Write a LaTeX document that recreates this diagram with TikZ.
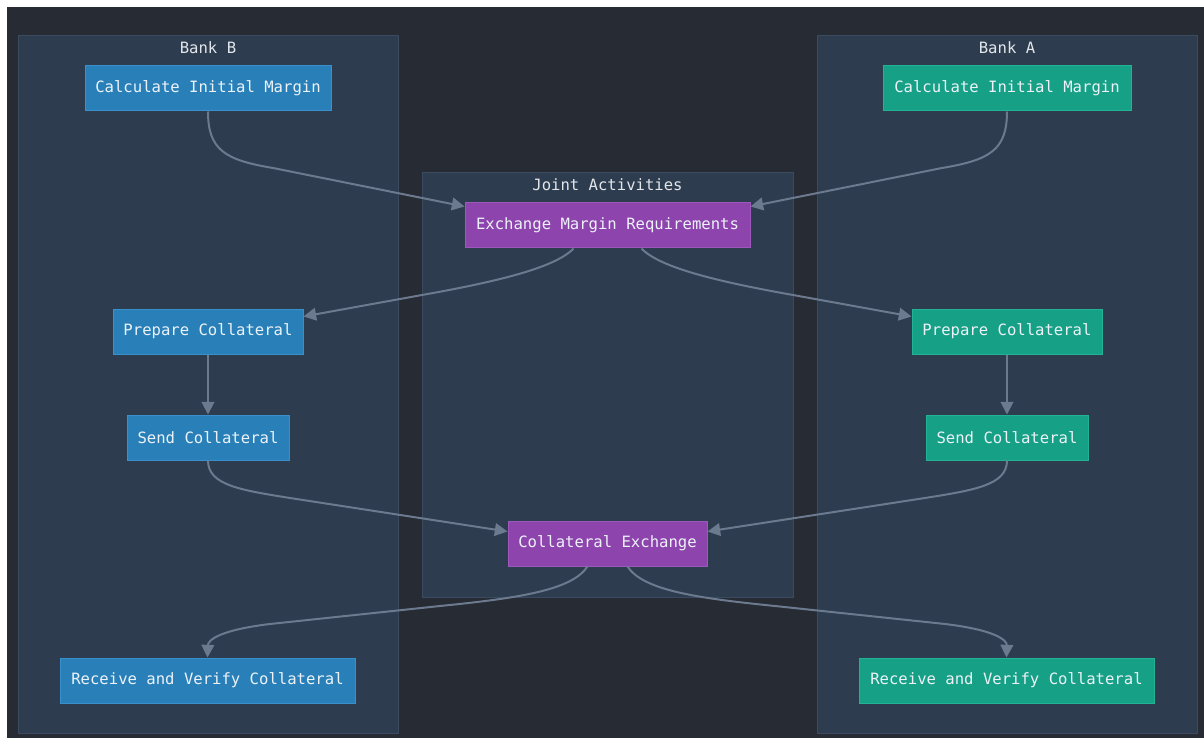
\documentclass[tikz,border=0pt]{standalone}
\usepackage{fontspec}
\setmonofont{DejaVu Sans Mono}
\usetikzlibrary{arrows.meta,calc}

\definecolor{canvas}{HTML}{272B33}
\definecolor{groupfill}{HTML}{2E3C4F}
\definecolor{groupline}{HTML}{3A4A5F}
\definecolor{bankb}{HTML}{2980B9}
\definecolor{bankbline}{HTML}{3A90CC}
\definecolor{banka}{HTML}{16A085}
\definecolor{bankaline}{HTML}{22B396}
\definecolor{joint}{HTML}{8E44AD}
\definecolor{jointline}{HTML}{9D58BB}
\definecolor{labeltext}{HTML}{ECF2F8}
\definecolor{grouptext}{HTML}{E2E6EA}
\definecolor{flow}{HTML}{6B7A8E}

\begin{document}
\begin{tikzpicture}[x=0.75pt,y=-0.75pt,
  font=\ttfamily\fontsize{11.7}{14}\selectfont,
  group/.style={draw=groupline, line width=0.6pt, fill=groupfill, inner sep=0pt},
  grouptitle/.style={text=grouptext, inner sep=0pt},
  task/.style={minimum height=33.75pt, inner sep=0pt, text=labeltext, line width=0.75pt},
  bstep/.style={task, fill=bankb, draw=bankbline},
  astep/.style={task, fill=banka, draw=bankaline},
  jstep/.style={task, fill=joint, draw=jointline},
  flowline/.style={draw=flow, line width=1.5pt, -{Triangle[length=9.5pt,width=9.5pt]}}
]
% page and canvas
\useasboundingbox (0,0) rectangle (1204,738);
\fill[white] (0,0) rectangle (1204,738);
\fill[canvas] (7,7) rectangle (1204,738);

% swimlanes
\node[group, minimum width=285pt, minimum height=523.5pt] (laneB) at (208,384) {};
\node[group, minimum width=285pt, minimum height=523.5pt] (laneA) at (1007,384) {};
\node[group, minimum width=278.25pt, minimum height=318.75pt] (laneJ) at (607.5,384.5) {};
\node[grouptitle] (laneBt) at (208,48) {Bank B};
\node[grouptitle] (laneAt) at (1007,48) {Bank A};
\node[grouptitle] (laneJt) at (607.5,185) {Joint Activities};

% activities
\node[bstep, minimum width=184.5pt] (bcalc) at (208,88.5) {Calculate Initial Margin};
\node[astep, minimum width=186pt] (acalc) at (1007,88.5) {Calculate Initial Margin};
\node[jstep, minimum width=213.75pt] (exm) at (607.5,225.5) {Exchange Margin Requirements};
\node[bstep, minimum width=142.5pt] (bprep) at (208,331.5) {Prepare Collateral};
\node[astep, minimum width=142.5pt] (aprep) at (1007,331.5) {Prepare Collateral};
\node[bstep, minimum width=121.5pt] (bsend) at (208,437.5) {Send Collateral};
\node[astep, minimum width=121.5pt] (asend) at (1007,437.5) {Send Collateral};
\node[jstep, minimum width=149.25pt] (cex) at (607.5,543.5) {Collateral Exchange};
\node[bstep, minimum width=221.25pt] (brecv) at (207.5,680.5) {Receive and Verify Collateral};
\node[astep, minimum width=221.25pt] (arecv) at (1006.5,680.5) {Receive and Verify Collateral};

% flows
\draw[flowline] (bcalc.south) .. controls (208,150) and (225,160) .. (273,168)
  -- ($(exm.north west)+(0,4)$);
\draw[flowline] (acalc.south) .. controls (1007,150) and (990,160) .. (942,168)
  -- ($(exm.north east)+(0,4)$);
\draw[flowline] ($(exm.south)+(-34,0)$) .. controls (555,268) and (495,282) .. (422,295)
  -- ($(bprep.north east)+(0,8)$);
\draw[flowline] ($(exm.south)+(34,0)$) .. controls (660,268) and (720,282) .. (793,295)
  -- ($(aprep.north west)+(0,8)$);
\draw[flowline] (bprep.south) -- (bsend.north);
\draw[flowline] (aprep.south) -- (asend.north);
\draw[flowline] (bsend.south) .. controls (208,485) and (240,490) .. (290,498)
  -- ($(cex.north west)+(0,11)$);
\draw[flowline] (asend.south) .. controls (1007,485) and (975,490) .. (925,498)
  -- ($(cex.north east)+(0,11)$);
\draw[flowline] ($(cex.south)+(-20,0)$) .. controls (572,590) and (520,598) .. (440,606)
  -- (270,624) .. controls (220,630) and (208,640) .. (brecv.north);
\draw[flowline] ($(cex.south)+(20,0)$) .. controls (643,590) and (695,598) .. (775,606)
  -- (945,624) .. controls (995,630) and (1007,640) .. (arecv.north);
\end{tikzpicture}
\end{document}
